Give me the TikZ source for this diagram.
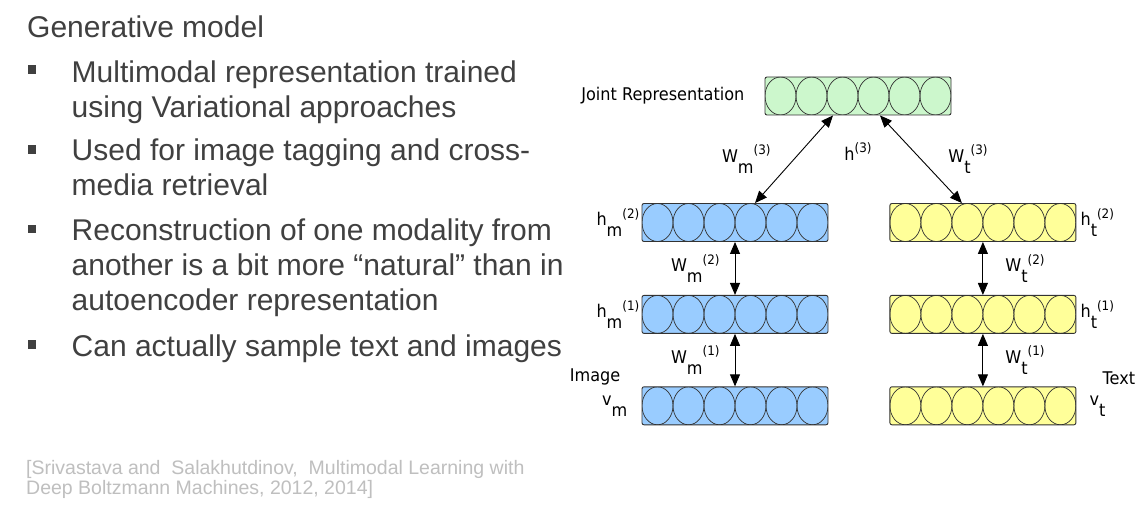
\documentclass[tikz,border=0pt]{standalone}
\usepackage{fontspec}
\setmainfont{Liberation Sans}
\newfontfamily\netfont{DejaVu Sans}[FakeStretch=0.92]
\usetikzlibrary{positioning,arrows.meta}
\definecolor{textgray}{HTML}{404040}
\definecolor{citegray}{HTML}{BFBFBF}
\definecolor{linegray}{HTML}{333333}
\definecolor{jointgreen}{HTML}{CCF7CC}
\definecolor{imageblue}{HTML}{99CCFF}
\definecolor{textyellow}{HTML}{FFFF99}
\tikzstyle{slide} = [text=textgray, inner sep=0pt, align=left,
    font=\fontsize{30}{35}\selectfont]
\tikzstyle{bul} = [fill=textgray, rectangle, inner sep=0pt, minimum size=8.5pt]
\tikzstyle{cite} = [text=citegray, inner sep=0pt, align=left,
    font=\fontsize{19.5}{20}\selectfont]
\tikzstyle{layer} = [draw=linegray, line width=0.9pt, rectangle, rounded corners=2pt,
    minimum width=186pt, minimum height=38pt, inner sep=0pt,
    path picture={\foreach \k in {0,...,5}
        \draw [line width=0.7pt, draw=linegray]
            ([xshift={(15.5+31*\k)*1pt}]path picture bounding box.west)
            ellipse [x radius=15.5pt, y radius=19pt];}]
\tikzstyle{netlab} = [inner sep=1pt, font=\netfont\fontsize{17.5}{18}\selectfont]
\tikzstyle{link} = [<->, line width=0.9pt]
\newcommand{\unitlab}[3]{#1\raisebox{-11pt}{#2}\raisebox{7.5pt}{\fontsize{13}{13}\selectfont #3}}

\begin{document}
\begin{tikzpicture}[x=1pt, y=-1pt, >={Triangle[length=12pt,width=10pt]}]
    \useasboundingbox [fill=white] (0,0) rectangle (1146,508);
    % We start with the bullet list (anchored on the last line)
    \node [slide, anchor=base west] (title) at (27,37.3) {Generative model};
    \node [slide, anchor=base west] (item1) at (71.5,117.3) {Multimodal representation trained\\using Variational approaches};
    \node [slide, anchor=base west] (item2) at (71.5,195) {Used for image tagging and cross-\\media retrieval};
    \node [slide, anchor=base west] (item3) at (71.5,310) {Reconstruction of one modality from\\another is a bit more “natural” than in\\autoencoder representation};
    \node [slide, anchor=base west] (item4) at (71.5,356) {Can actually sample text and images};
    \node [bul] (dot1) at (32.2,69.5) {};
    \node [bul] (dot2) at (32.2,149.5) {};
    \node [bul] (dot3) at (32.2,229) {};
    \node [bul] (dot4) at (32.2,344.5) {};
    \node [cite, anchor=base west] (ref) at (26,494.7) {[Srivastava and\ \ Salakhutdinov,\ \ Multimodal Learning with\\Deep Boltzmann Machines, 2012, 2014]};
    % Then the layers of the network
    \node [layer, fill=jointgreen] (joint) at (858,96) {};
    \node [layer, fill=imageblue] (hm2) at (735,222.5) {};
    \node [layer, fill=imageblue, below=53pt of hm2] (hm1) {};
    \node [layer, fill=imageblue, below=52.5pt of hm1] (vm) {};
    \node [layer, fill=textyellow, right=61pt of hm2] (ht2) {};
    \node [layer, fill=textyellow, right=61pt of hm1] (ht1) {};
    \node [layer, fill=textyellow, right=61pt of vm] (vt) {};
    % Layer names
    \node [netlab, left=19pt of joint] (jointlab) {Joint Representation};
    \node [netlab, left=1pt of hm2] (hm2lab) {\unitlab{h}{m}{(2)}};
    \node [netlab, left=1pt of hm1] (hm1lab) {\unitlab{h}{m}{(1)}};
    \node [netlab, left=13pt of vm] (vmlab) {\unitlab{v}{m}{}};
    \node [netlab, right=3pt of ht2] (ht2lab) {\unitlab{h}{t}{(2)}};
    \node [netlab, right=3pt of ht1] (ht1lab) {\unitlab{h}{t}{(1)}};
    \node [netlab, right=12pt of vt] (vtlab) {\unitlab{v}{t}{}};
    \node [netlab, anchor=south east] (imagelab) at ([xshift=-20pt]vm.north west) {Image};
    \node [netlab, anchor=south west] (textlab) at ([xshift=25pt]vt.north east) {Text};
    \node [netlab, below=26pt of joint] (h3) {\unitlab{h}{}{(3)}};
    % We draw the weights between the layers
    \draw [link] ([xshift=-25pt]joint.south) -- node [netlab, left=22pt] (wm3) {\unitlab{W}{m}{(3)}} ([xshift=20pt]hm2.north);
    \draw [link] ([xshift=22pt]joint.south) -- node [netlab, right=26pt] (wt3) {\unitlab{W}{t}{(3)}} ([xshift=-21pt]ht2.north);
    \draw [link] (hm2) -- node [netlab, left=14pt] (wm2) {\unitlab{W}{m}{(2)}} (hm1);
    \draw [link] (hm1) -- node [netlab, left=14pt] (wm1) {\unitlab{W}{m}{(1)}} (vm);
    \draw [link] (ht2) -- node [netlab, right=21pt] (wt2) {\unitlab{W}{t}{(2)}} (ht1);
    \draw [link] (ht1) -- node [netlab, right=21pt] (wt1) {\unitlab{W}{t}{(1)}} (vt);
\end{tikzpicture}
\end{document}
